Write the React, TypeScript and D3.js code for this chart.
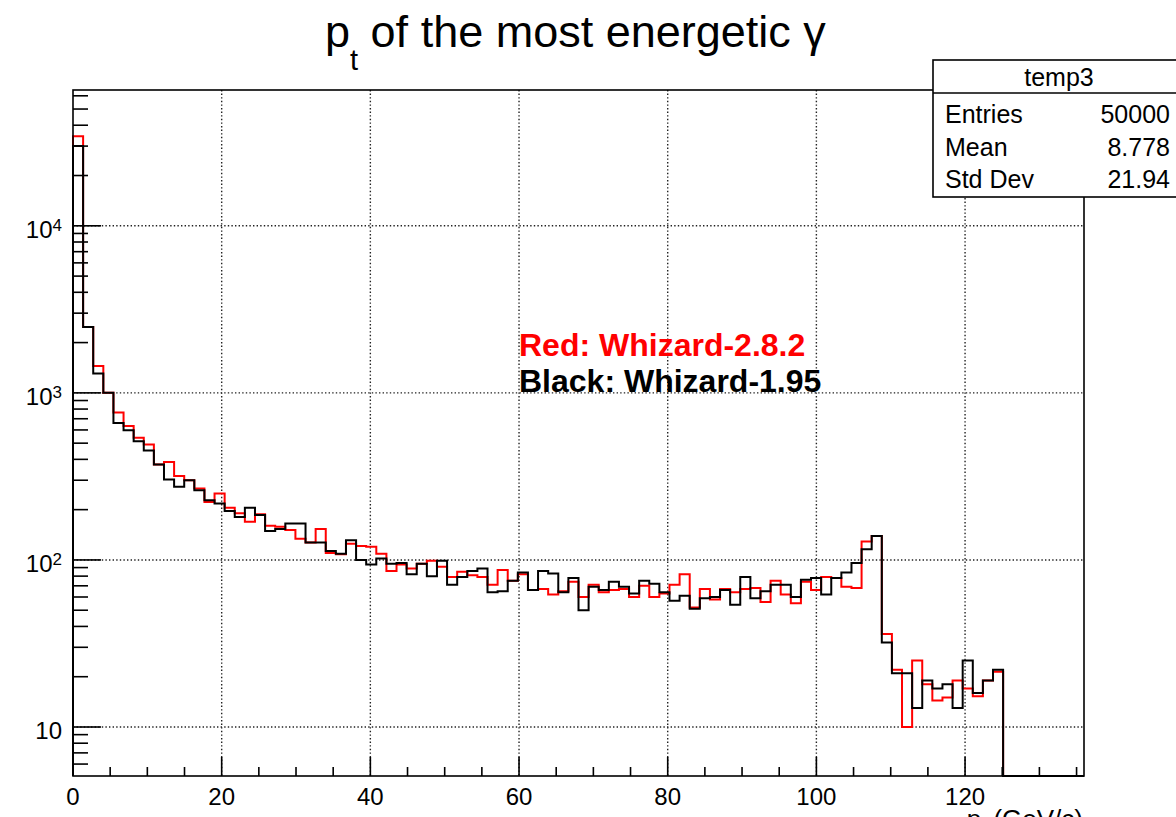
import React from "react";
import * as d3 from "d3";

// ---- data (100 bins, 0..136 GeV/c, bin width 1.36) ----
const binCount = 100;
const xMin = 0;
const xMax = 136;
const yMin = 5.09;
const yMax = 65000;

const redValues = [
  34400, 2480, 1450, 1000, 764, 634, 538, 491, 372, 386,
  318, 300, 268, 222, 250, 205, 190, 169, 188, 160,
  158, 151, 134, 127, 153, 110, 108, 125, 121, 120,
  109, 86, 94, 89, 95, 99, 91, 79, 85, 81,
  79, 71, 87, 75, 82, 66, 67, 62, 65, 74,
  60, 71, 64, 66, 67, 60, 70, 60, 63, 71,
  82, 52, 67, 58, 67, 64, 67, 68, 56, 75,
  62, 55, 74, 66, 79, 78, 69, 68, 129, 139,
  36, 22, 10, 25, 18, 14.4, 15, 19, 17, 15.3,
  19, 21.4, 0, 0, 0, 0, 0, 0, 0, 0,
];

const blackValues = [
  30000, 2480, 1307, 1000, 661, 598, 514, 452, 372, 303,
  274, 300, 261, 228, 218, 196, 181, 205, 186, 149,
  153, 165, 165, 127, 127, 113, 109, 131, 100, 94,
  102, 95, 96, 82, 95, 80, 99, 71, 79, 86,
  89, 64, 65, 75, 84, 66, 86, 83, 64, 78,
  50, 69, 66, 74, 69, 63, 75, 72, 64, 57,
  61, 51, 59, 60, 66, 54, 79, 59, 65, 71,
  71, 60, 76, 78, 62, 78, 84, 96, 116, 139,
  32, 21, 21, 13, 19, 17, 18, 13, 25, 16,
  19, 22, 0, 0, 0, 0, 0, 0, 0, 0,
];

const xMajorTicks = [0, 20, 40, 60, 80, 100, 120];
const yMajorTicks = [10, 100, 1000, 10000];
const yTickExp = ["", "2", "3", "4"];

const statsTitle = "temp3";
const statsLabels = ["Entries", "Mean", "Std Dev"];
const statsValues = ["50000", "8.778", "21.94"];

const legendLines = [
  { text: "Red: Whizard-2.8.2", color: "#ff0000" },
  { text: "Black: Whizard-1.95", color: "#000000" },
];

// ---- layout ----
const W = 1176;
const H = 817;
const frame = { left: 73, right: 1084, top: 90, bottom: 776 };
const FONT = "'Liberation Sans', Arial, Helvetica, sans-serif";

export default function App() {
  const x = d3.scaleLinear().domain([xMin, xMax]).range([frame.left, frame.right]);
  const y = d3.scaleLog().domain([yMin, yMax]).range([frame.bottom, frame.top]);
  const binW = (xMax - xMin) / binCount;

  const histPath = (vals: number[]) => {
    const pts: [number, number][] = [];
    pts.push([x(xMin), frame.bottom]);
    vals.forEach((v, i) => {
      const yy = v > 0 ? y(Math.max(v, yMin)) : frame.bottom;
      pts.push([x(xMin + i * binW), yy]);
      pts.push([x(xMin + (i + 1) * binW), yy]);
    });
    pts.push([x(xMax), frame.bottom]);
    return d3.line()(pts) || "";
  };

  // minor ticks
  const xMinor = d3.range(0, xMax + 0.001, 5).filter((v) => v % 20 !== 0);
  const yMinor: number[] = [];
  for (let e = 0; e <= 4; e++) {
    for (let m = 2; m <= 9; m++) {
      const v = m * Math.pow(10, e);
      if (v > yMin && v < yMax) yMinor.push(v);
    }
  }

  const gridStyle = { stroke: "#222", strokeWidth: 1.4, strokeDasharray: "1.4 2.2" };

  return (
    <svg width={W} height={H} style={{ display: "block", position: "absolute", left: 0, top: 0, background: "#fff" }}
      fontFamily={FONT}>
      <rect x={0} y={0} width={W} height={H} fill="#fff" />
      {/* title */}
      <text x={325} y={47} fontSize={45} fill="#000">
        p
        <tspan fontSize={29} dy={23}>t</tspan>
        <tspan dy={-23}> of the most energetic γ</tspan>
      </text>

      {/* grid */}
      {xMajorTicks.filter((v) => v > 0).map((v) => (
        <line key={"gx" + v} x1={x(v)} x2={x(v)} y1={frame.top} y2={frame.bottom} {...gridStyle} />
      ))}
      {yMajorTicks.map((v) => (
        <line key={"gy" + v} x1={frame.left} x2={frame.right} y1={y(v)} y2={y(v)} {...gridStyle} />
      ))}

      {/* histograms */}
      <path d={histPath(redValues)} fill="none" stroke="#ff0000" strokeWidth={2} />
      <path d={histPath(blackValues)} fill="none" stroke="#000" strokeWidth={2} />

      {/* frame */}
      <rect x={frame.left} y={frame.top} width={frame.right - frame.left} height={frame.bottom - frame.top}
        fill="none" stroke="#000" strokeWidth={1.6} />

      {/* x ticks */}
      {xMajorTicks.map((v) => (
        <line key={"xt" + v} x1={x(v)} x2={x(v)} y1={frame.bottom} y2={frame.bottom - 19} stroke="#000" strokeWidth={1.6} />
      ))}
      {xMinor.map((v) => (
        <line key={"xm" + v} x1={x(v)} x2={x(v)} y1={frame.bottom} y2={frame.bottom - 9} stroke="#000" strokeWidth={1.6} />
      ))}
      {xMajorTicks.map((v) => (
        <text key={"xl" + v} x={x(v)} y={805} fontSize={24} textAnchor="middle" fill="#000">{v}</text>
      ))}
      <text x={frame.right - 1} y={828} fontSize={26} textAnchor="end" fill="#000">
        p<tspan fontSize={18} dy={8}>t</tspan><tspan dy={-8}> (GeV/c)</tspan>
      </text>

      {/* y ticks */}
      {yMajorTicks.map((v) => (
        <line key={"yt" + v} x1={frame.left} x2={frame.left + 28} y1={y(v)} y2={y(v)} stroke="#000" strokeWidth={1.6} />
      ))}
      {yMinor.map((v) => (
        <line key={"ym" + v} x1={frame.left} x2={frame.left + 15} y1={y(v)} y2={y(v)} stroke="#000" strokeWidth={1.6} />
      ))}
      {yMajorTicks.map((v, i) => (
        <text key={"yl" + v} x={62} y={y(v) + 12} fontSize={24} textAnchor="end" fill="#000">
          10{yTickExp[i] ? <tspan fontSize={17} dy={-7}>{yTickExp[i]}</tspan> : null}
        </text>
      ))}

      {/* legend text */}
      {legendLines.map((l, i) => (
        <text key={"lg" + i} x={519} y={356 + i * 36} fontSize={32} fontWeight="bold" fill={l.color}>{l.text}</text>
      ))}

      {/* stats box */}
      <rect x={933} y={60} width={280} height={137} fill="#fff" stroke="#000" strokeWidth={1.6} />
      <line x1={933} x2={1213} y1={93} y2={93} stroke="#000" strokeWidth={1.6} />
      <text x={1059} y={86} fontSize={25} textAnchor="middle" fill="#000">{statsTitle}</text>
      {statsLabels.map((s, i) => (
        <g key={"st" + i}>
          <text x={945} y={123 + i * 32.7} fontSize={25} fill="#000">{s}</text>
          <text x={1170} y={123 + i * 32.7} fontSize={25} textAnchor="end" fill="#000">{statsValues[i]}</text>
        </g>
      ))}
    </svg>
  );
}
